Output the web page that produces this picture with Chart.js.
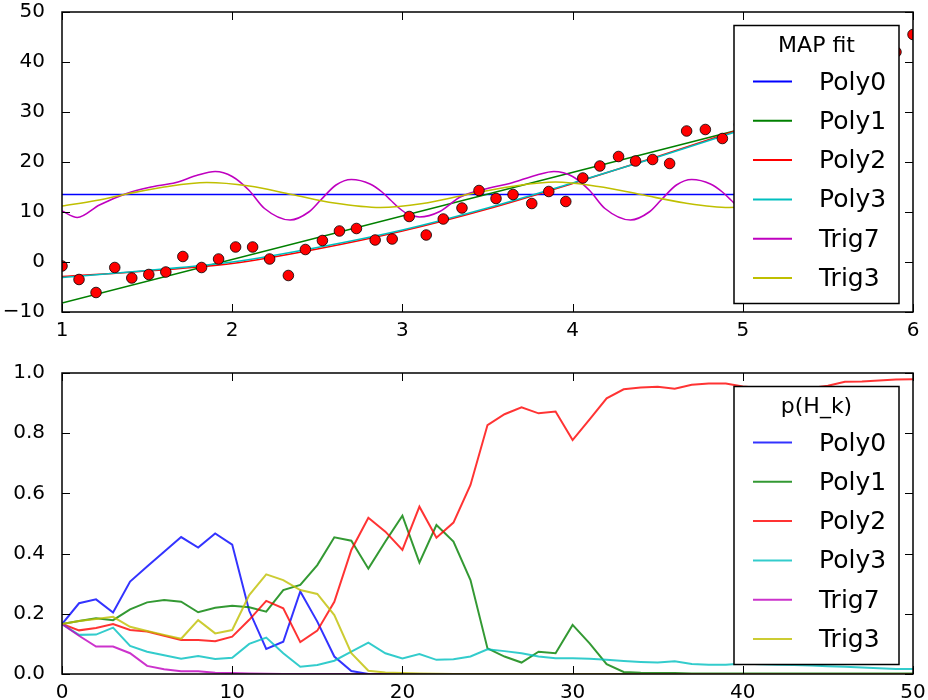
<!DOCTYPE html>
<html>
<head>
<meta charset="utf-8">
<script src="https://cdn.jsdelivr.net/npm/chart.js@4.4.1/dist/chart.umd.min.js"></script>
<style>
  html, body { margin: 0; padding: 0; background: #fff; }
  #contenedor { width: 928px; height: 700px; }
  canvas { display: block; }
</style>
</head>
<body>
<div id="contenedor">
  <canvas id="grafica-ajuste" width="928" height="350"></canvas>
  <canvas id="grafica-prob" width="928" height="350"></canvas>
</div>
<script>
// ─────────────────────────────────────────────────────────────
// Datos de la gráfica superior: puntos observados (MAP fit)
// ─────────────────────────────────────────────────────────────
const puntosX = [1.00, 1.10, 1.20, 1.31, 1.41, 1.51, 1.61, 1.71, 1.82, 1.92,
                 2.02, 2.12, 2.22, 2.33, 2.43, 2.53, 2.63, 2.73, 2.84, 2.94,
                 3.04, 3.14, 3.24, 3.35, 3.45, 3.55, 3.65, 3.76, 3.86, 3.96,
                 4.06, 4.16, 4.27, 4.37, 4.47, 4.57, 4.67, 4.78, 4.88, 4.98,
                 5.08, 5.18, 5.29, 5.39, 5.49, 5.59, 5.69, 5.80, 5.90, 6.00];
const puntosY = [-0.8, -3.5, -6.1, -1.1, -3.2, -2.5, -2.0, 1.1, -1.1, 0.6,
                 3.0, 3.0, 0.6, -2.7, 2.5, 4.3, 6.2, 6.7, 4.4, 4.6,
                 9.1, 5.4, 8.6, 10.8, 14.3, 12.7, 13.5, 11.7, 14.1, 12.1,
                 16.8, 19.2, 21.1, 20.2, 20.5, 19.7, 26.2, 26.5, 24.7, 27.5,
                 28.0, 30.5, 31.0, 33.5, 34.0, 36.5, 37.5, 40.0, 42.0, 45.5];

// Curvas ajustadas (muestras)
const poly0X = [1.0, 5.9];
const poly0Y = [13.5, 13.5];
const poly1X = [1.0, 4.95, 5.9];
const poly1Y = [-8.2, 26.2, 34.5];
const polyCuadX = [1.0, 1.5, 2.0, 2.5, 3.0, 3.5, 4.0, 4.5, 5.0, 5.5, 5.9];
const poly2Y = [-2.9, -1.8, -0.3, 2.6, 6.2, 10.6, 15.7, 21.1, 26.7, 32.6, 37.5];
const poly3Y = [-3.1, -1.7, 0.0, 2.9, 6.4, 10.8, 15.8, 21.0, 26.5, 32.0, 36.5];
const trig7X = [1.00, 1.09, 1.22, 1.38, 1.51, 1.67, 1.79, 1.90, 2.00, 2.10, 2.19,
                2.34, 2.45, 2.52, 2.61, 2.70, 2.81, 2.88, 2.93, 2.98, 3.03,
                3.10, 3.22, 3.34, 3.51, 3.63, 3.79, 3.89, 4.00, 4.10, 4.19,
                4.34, 4.45, 4.52, 4.61, 4.70, 4.81, 4.88, 4.93, 4.98, 5.03,
                5.10, 5.22, 5.34, 5.51, 5.63, 5.79, 5.88];
const trig7Y = [10.2, 8.9, 11.4, 13.7, 14.9, 15.9, 17.3, 18.1, 17.1, 14.3, 10.7,
                8.4, 10.0, 12.4, 15.4, 16.5, 15.6, 14.0, 12.4, 10.8, 9.6,
                9.0, 10.1, 13.0, 14.8, 15.7, 17.4, 18.1, 17.1, 14.3, 10.7,
                8.4, 10.0, 12.4, 15.4, 16.5, 15.6, 14.0, 12.4, 10.8, 9.6,
                9.0, 10.1, 13.0, 14.8, 15.7, 17.4, 18.0];
const trig3X = [1.00, 1.20, 1.38, 1.60, 1.85, 2.10, 2.35, 2.60, 2.87, 3.12, 3.38,
                3.64, 3.90, 4.15, 4.40, 4.66, 4.92, 5.17, 5.43, 5.69, 5.88];
const trig3Y = [11.2, 12.3, 13.6, 15.0, 15.9, 15.2, 13.5, 11.8, 10.9, 11.7, 13.5,
                15.1, 16.0, 15.1, 13.5, 11.8, 10.9, 11.7, 13.5, 15.1, 15.9];

// ─────────────────────────────────────────────────────────────
// Datos de la gráfica inferior: p(H_k) tras k observaciones (k = 0..50)
// ─────────────────────────────────────────────────────────────
const probPoly0 = [0.166, 0.235, 0.248, 0.204, 0.307, 0.357, 0.406, 0.455, 0.420, 0.467,
                   0.430, 0.210, 0.083, 0.107, 0.274, 0.174, 0.058, 0.010, 0, 0,
                   0, 0, 0, 0, 0, 0, 0, 0, 0, 0,
                   0, 0, 0, 0, 0, 0, 0, 0, 0, 0,
                   0, 0, 0, 0, 0, 0, 0, 0, 0, 0, 0];
const probPoly1 = [0.166, 0.176, 0.185, 0.179, 0.215, 0.238, 0.246, 0.240, 0.205, 0.220,
                   0.227, 0.222, 0.207, 0.279, 0.296, 0.362, 0.454, 0.443, 0.350, 0.440,
                   0.526, 0.370, 0.495, 0.440, 0.312, 0.085, 0.058, 0.038, 0.074, 0.069,
                   0.163, 0.102, 0.033, 0.007, 0.004, 0.003, 0.003, 0.002, 0.002, 0.002,
                   0.002, 0.002, 0.002, 0.002, 0.002, 0.002, 0.002, 0.002, 0.002, 0.002, 0.002];
const probPoly2 = [0.166, 0.145, 0.153, 0.166, 0.146, 0.141, 0.127, 0.113, 0.113, 0.109,
                   0.124, 0.180, 0.243, 0.218, 0.106, 0.144, 0.240, 0.412, 0.519, 0.473,
                   0.412, 0.556, 0.453, 0.503, 0.628, 0.827, 0.863, 0.886, 0.866, 0.872,
                   0.777, 0.846, 0.916, 0.946, 0.952, 0.954, 0.948, 0.961, 0.965, 0.965,
                   0.955, 0.950, 0.948, 0.947, 0.950, 0.958, 0.971, 0.972, 0.975, 0.978, 0.979];
const probPoly3 = [0.166, 0.130, 0.131, 0.154, 0.093, 0.074, 0.062, 0.051, 0.060, 0.050,
                   0.054, 0.100, 0.121, 0.069, 0.024, 0.030, 0.044, 0.074, 0.104, 0.069,
                   0.052, 0.066, 0.047, 0.049, 0.058, 0.082, 0.076, 0.069, 0.058, 0.052,
                   0.052, 0.051, 0.047, 0.043, 0.040, 0.038, 0.042, 0.033, 0.031, 0.031,
                   0.035, 0.032, 0.031, 0.030, 0.028, 0.026, 0.024, 0.022, 0.019, 0.017, 0.017];
const probTrig7 = [0.166, 0.127, 0.091, 0.091, 0.069, 0.027, 0.016, 0.009, 0.009, 0.004,
                   0.003, 0.002, 0.001, 0, 0, 0, 0, 0, 0, 0,
                   0, 0, 0, 0, 0, 0, 0, 0, 0, 0,
                   0, 0, 0, 0, 0, 0, 0, 0, 0, 0,
                   0, 0, 0, 0, 0, 0, 0, 0, 0, 0, 0];
const probTrig3 = [0.166, 0.176, 0.183, 0.190, 0.157, 0.143, 0.130, 0.117, 0.179, 0.135,
                   0.146, 0.262, 0.331, 0.312, 0.279, 0.266, 0.196, 0.069, 0.011, 0.005,
                   0.003, 0.002, 0.001, 0, 0, 0, 0, 0, 0, 0,
                   0, 0, 0, 0, 0, 0, 0, 0, 0, 0,
                   0, 0, 0, 0, 0, 0, 0, 0, 0, 0, 0];

const nombres = ['Poly0', 'Poly1', 'Poly2', 'Poly3', 'Trig7', 'Trig3'];
const colores = ['#0000ff', '#008000', '#ff0000', '#00bfbf', '#bf00bf', '#bfbf00'];
const coloresProb = ['rgba(0,0,255,0.8)', 'rgba(0,128,0,0.8)', 'rgba(255,0,0,0.8)',
                     'rgba(0,191,191,0.8)', 'rgba(191,0,191,0.8)', 'rgba(191,191,0,0.8)'];

const FUENTE = 'DejaVu Sans';


// ─────────────────────────────────────────────────────────────
// Plugin: marco, marcas hacia adentro y leyenda con caja
// ─────────────────────────────────────────────────────────────
const pluginMarco = {
  id: 'marco',
  afterDatasetsDraw(chart, args, opts) {
    const { ctx, chartArea: a, scales } = chart;
    ctx.save();

    // Marcas de graduación en los cuatro lados
    ctx.strokeStyle = '#000';
    ctx.lineWidth = 1;
    ctx.beginPath();
    scales.x.ticks.forEach(t => {
      const px = Math.round(scales.x.getPixelForValue(t.value)) + 0.5;
      ctx.moveTo(px, a.bottom); ctx.lineTo(px, a.bottom - 8);
      ctx.moveTo(px, a.top); ctx.lineTo(px, a.top + 8);
    });
    scales.y.ticks.forEach(t => {
      const py = Math.round(scales.y.getPixelForValue(t.value)) + 0.5;
      ctx.moveTo(a.left, py); ctx.lineTo(a.left + 8, py);
      ctx.moveTo(a.right, py); ctx.lineTo(a.right - 8, py);
    });
    ctx.stroke();

    // Marco de los ejes
    ctx.lineWidth = 1.5;
    ctx.strokeRect(a.left, a.top, a.right - a.left, a.bottom - a.top);

    // Leyenda
    const izq = a.right - 179;
    const arr = a.top + 13.5;
    const ancho = 165;
    const alto = 278;
    ctx.fillStyle = '#fff';
    ctx.fillRect(izq, arr, ancho, alto);
    ctx.strokeRect(izq, arr, ancho, alto);

    ctx.fillStyle = '#000';
    ctx.textBaseline = 'middle';
    ctx.textAlign = 'center';
    ctx.font = '22px "' + FUENTE + '"';
    ctx.fillText(opts.titulo, izq + ancho / 2, arr + 20.5);

    ctx.textAlign = 'left';
    ctx.font = '25px "' + FUENTE + '"';
    opts.colores.forEach((c, i) => {
      const y = arr + 56 + i * 39.3;
      ctx.strokeStyle = c;
      ctx.lineWidth = 2;
      ctx.beginPath();
      ctx.moveTo(izq + 19, y);
      ctx.lineTo(izq + 58, y);
      ctx.stroke();
      ctx.fillText(nombres[i], izq + 85, y + 1.5);
    });

    ctx.restore();
  }
};


// ─────────────────────────────────────────────────────────────
// Opciones de ejes compartidas
// ─────────────────────────────────────────────────────────────
function ejes(cfg) {
  return {
    x: {
      type: 'linear',
      min: cfg.xMin,
      max: cfg.xMax,
      grid: { display: false },
      border: { display: false },
      ticks: {
        stepSize: cfg.xPaso,
        color: '#000',
        font: { family: FUENTE, size: 20, lineHeight: 1 },
        padding: 1,
        maxRotation: 0,
        autoSkip: false
      },
      afterFit: s => { s.height = cfg.altoX; }
    },
    y: {
      min: cfg.yMin,
      max: cfg.yMax,
      grid: { display: false },
      border: { display: false },
      ticks: {
        stepSize: cfg.yPaso,
        color: '#000',
        // lineHeight bajo: evita que la etiqueta superior empuje el área
        font: { family: FUENTE, size: 20, lineHeight: 0.3 },
        padding: 9,
        callback: cfg.formatoY
      },
      afterFit: s => { s.width = 62; }
    }
  };
}

function serie(xs, ys) {
  return ys.map((y, i) => ({ x: xs[i], y }));
}


// ─────────────────────────────────────────────────────────────
// Gráfica superior: MAP fit
// ─────────────────────────────────────────────────────────────
const curvasAjuste = [
  serie(poly0X, poly0Y),
  serie(poly1X, poly1Y),
  serie(polyCuadX, poly2Y),
  serie(polyCuadX, poly3Y),
  serie(trig7X, trig7Y),
  serie(trig3X, trig3Y)
];

new Chart(document.getElementById('grafica-ajuste'), {
  type: 'line',
  data: {
    datasets: curvasAjuste.map((d, i) => ({
      label: nombres[i],
      data: d,
      borderColor: colores[i],
      borderWidth: 1.6,
      pointRadius: 0,
      fill: false,
      cubicInterpolationMode: i >= 2 ? 'monotone' : 'default',
      tension: 0,
      clip: 0,
      order: 10 - i
    })).concat([{
      label: 'datos',
      data: serie(puntosX, puntosY),
      showLine: false,
      pointRadius: 5.3,
      pointBackgroundColor: '#ff0000',
      pointBorderColor: '#000',
      pointBorderWidth: 0.8,
      clip: 0,
      order: 0
    }])
  },
  options: {
    responsive: false,
    animation: false,
    layout: { padding: { left: 0, right: 15, top: 12, bottom: 0 } },
    plugins: {
      legend: { display: false },
      tooltip: { enabled: false },
      marco: { titulo: 'MAP fit', colores: colores }
    },
    scales: ejes({
      xMin: 1, xMax: 6, xPaso: 1, altoX: 38,
      yMin: -10, yMax: 50, yPaso: 10,
      formatoY: v => String(v).replace('-', '\u2212')
    })
  },
  plugins: [pluginMarco]
});


// ─────────────────────────────────────────────────────────────
// Gráfica inferior: p(H_k)
// ─────────────────────────────────────────────────────────────
const curvasProb = [probPoly0, probPoly1, probPoly2, probPoly3, probTrig7, probTrig3];

new Chart(document.getElementById('grafica-prob'), {
  type: 'line',
  data: {
    datasets: curvasProb.map((vals, i) => ({
      label: nombres[i],
      data: vals.map((v, k) => ({ x: k, y: v })),
      borderColor: coloresProb[i],
      borderWidth: 2,
      pointRadius: 0,
      fill: false,
      tension: 0,
      clip: 0,
      order: 10 - i
    }))
  },
  options: {
    responsive: false,
    animation: false,
    layout: { padding: { left: 0, right: 15, top: 23, bottom: 0 } },
    plugins: {
      legend: { display: false },
      tooltip: { enabled: false },
      marco: { titulo: 'p(H_k)', colores: coloresProb }
    },
    scales: ejes({
      xMin: 0, xMax: 50, xPaso: 10, altoX: 26,
      yMin: 0, yMax: 1, yPaso: 0.2,
      formatoY: v => v.toFixed(1)
    })
  },
  plugins: [pluginMarco]
});
</script>
</body>
</html>
